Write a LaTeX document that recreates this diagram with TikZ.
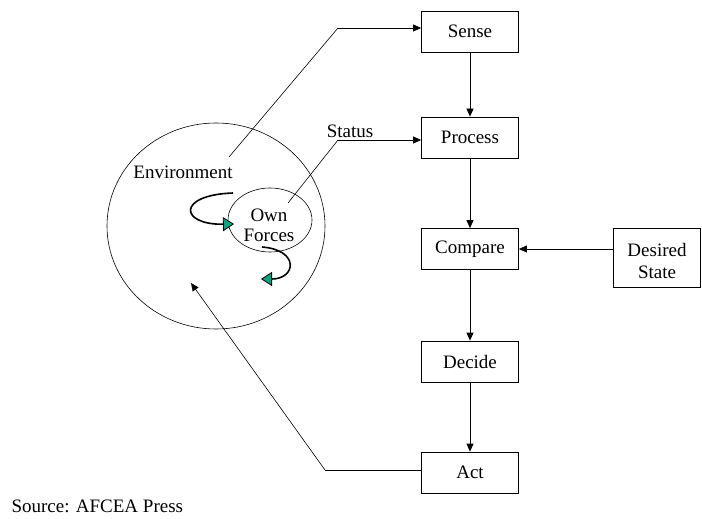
\documentclass[tikz,border=0pt]{standalone}
\usepackage{fontspec}
\setmainfont{Liberation Serif}
\usetikzlibrary{arrows.meta,shapes.geometric}
\definecolor{tealgreen}{RGB}{0,168,128}
\begin{document}
\begin{tikzpicture}[x=1pt,y=-1pt,
  font=\fontsize{19}{22}\selectfont,
  stepbox/.style={draw,line width=0.8pt,minimum width=97pt,minimum height=41pt,inner sep=0pt},
  conn/.style={line width=0.8pt,-{Triangle[length=8pt,width=7pt]}},
  thinline/.style={line width=0.6pt},
  curl/.style={line width=1.6pt,-{Triangle[length=11pt,width=14pt,fill=tealgreen,line width=0.8pt]}}]
\useasboundingbox (0,0) rectangle (702,519);
% boxes
\node[stepbox] (sense) at (470,31.5) {Sense};
\node[stepbox] (process) at (470,137.5) {Process};
\node[stepbox] (compare) at (470,249) {Compare};
\node[stepbox] (decide) at (470,361.5) {Decide};
\node[stepbox] (act) at (470,472.5) {Act};
\node[draw,line width=0.8pt,minimum width=87pt,minimum height=59pt,inner sep=0pt,align=center,
      text width=85pt] (desired) at (657,257.5) {};
\node[align=center] (desiredtext) at (657,261) {Desired\\[0pt]State};
% ellipses
\node[draw,thinline,ellipse,minimum width=218pt,minimum height=206pt,inner sep=0pt] (env) at (216,226) {};
\node[draw,thinline,ellipse,minimum width=84pt,minimum height=64pt,inner sep=0pt] (own) at (270,220) {};
\node (owntext) at (269,225) [align=center] {Own\\[-2pt]Forces};
\node (envtext) at (183,172) {Environment};
\node (status) at (350,131) {Status};
\node[anchor=west] (source) at (8,506) {Source: AFCEA Press};
% vertical chain
\draw[conn] (sense) -- (process);
\draw[conn] (process) -- (compare);
\draw[conn] (compare) -- (decide);
\draw[conn] (decide) -- (act);
\draw[conn] (desired.west |- compare) -- (compare.east);
% environment to sense
\coordinate (envstart) at (229,157);
\coordinate (bendA) at (338,28);
\draw[thinline] (envstart) -- (bendA);
\draw[conn] (bendA) -- (bendA -| sense.west);
% status to process
\coordinate (ownstart) at (288,203);
\coordinate (bendB) at (338,140);
\draw[thinline] (ownstart) -- (bendB);
\draw[conn] (bendB) -- (bendB -| process.west);
% act back to environment
\coordinate (bendC) at (325,470);
\coordinate (envtip) at (191,283);
\draw[line width=0.8pt] (act.west |- bendC) -- (bendC);
\draw[thinline,-{Triangle[length=8pt,width=7pt]}] (bendC) -- (envtip);
% curls
\coordinate (c1s) at (233,193);
\coordinate (c1e) at (234,224);
\draw[curl] (c1s) .. controls (176,195) and (180,225) .. (c1e);
\coordinate (c2s) at (262,247);
\coordinate (c2e) at (261,279);
\draw[curl] (c2s) .. controls (300,250) and (296,279) .. (c2e);
\end{tikzpicture}
\end{document}
